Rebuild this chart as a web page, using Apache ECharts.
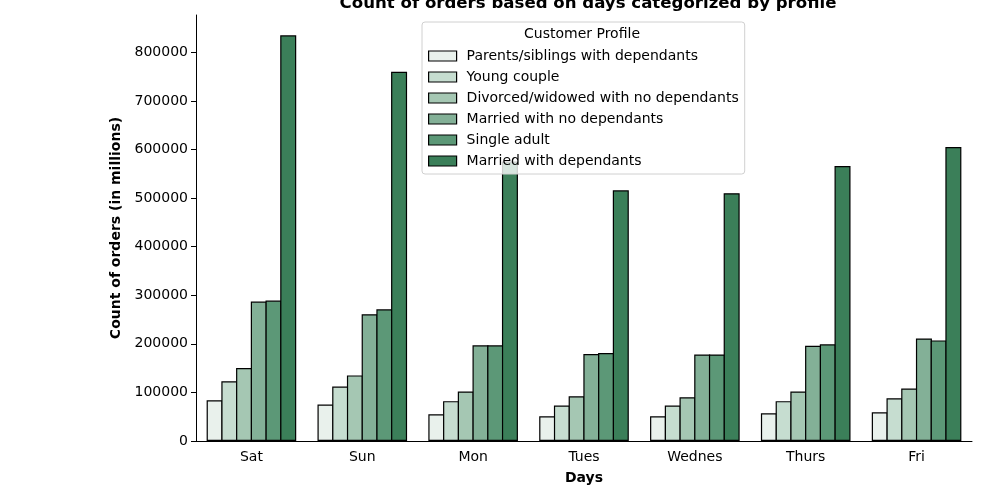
<!DOCTYPE html>
<html style="height:100%">
<head>
    <meta charset="UTF-8">
    <title>Orders by day and profile</title>
    <script src="https://cdn.jsdelivr.net/npm/echarts@6/dist/echarts.min.js"></script>
</head>
<body style="height:100%;margin:0">
    <div id="main" style="width:1000px;height:500px"></div>
    <script>
        var days = ['Sat', 'Sun', 'Mon', 'Tues', 'Wednes', 'Thurs', 'Fri'];
        var profiles = [
            'Parents/siblings with dependants',
            'Young couple',
            'Divorced/widowed with no dependants',
            'Married with no dependants',
            'Single adult',
            'Married with dependants'
        ];
        var parentsSiblings = [84000, 75000, 55000, 51000, 51000, 57000, 59000];
        var youngCouple = [123000, 112000, 82000, 73000, 73000, 82000, 88000];
        var divorcedWidowed = [150000, 135000, 102000, 92000, 90000, 102000, 108000];
        var marriedNoDeps = [287000, 261000, 197000, 179000, 178000, 196000, 211000];
        var singleAdult = [289000, 271000, 197000, 181000, 178000, 199000, 207000];
        var marriedWithDeps = [835000, 760000, 575000, 516000, 510000, 566000, 605000];

        var values = [parentsSiblings, youngCouple, divorcedWidowed, marriedNoDeps, singleAdult, marriedWithDeps];
        var colors = ['#e9f1ec', '#c6ddd0', '#a5c7b3', '#83b097', '#5c9877', '#3b7f59'];

        var font = 'DejaVu Sans';
        var series = profiles.map(function (name, i) {
            return {
                name: name,
                type: 'bar',
                data: values[i],
                barGap: '-8%',
                barWidth: 16,
                itemStyle: { color: colors[i], borderColor: '#000', borderWidth: 1.2 },
                emphasis: { disabled: true }
            };
        });

        var chart = echarts.init(document.getElementById('main'), null, { renderer: 'canvas' });
        chart.setOption({
            animation: false,
            backgroundColor: '#fff',
            title: {
                text: 'Count of orders based on days categorized by profile',
                left: 583,
                textAlign: 'center',
                top: -10,
                textStyle: { fontFamily: font, fontSize: 16.6, fontWeight: 'bold', color: '#000' }
            },
            grid: { left: 196, right: 28, top: 15, bottom: 59, containLabel: false },
            legend: {
                data: profiles,
                orient: 'vertical',
                left: 422,
                top: 22,
                padding: [26, 6, 5, 6],
                itemWidth: 28,
                itemHeight: 10,
                itemGap: 5,
                icon: 'rect',
                backgroundColor: 'rgba(255,255,255,0.8)',
                borderColor: '#d0d0d0',
                borderWidth: 1,
                borderRadius: 3,
                z: 10,
                itemStyle: { borderColor: '#000', borderWidth: 1.2 },
                textStyle: {
                    fontFamily: font, fontSize: 14, color: '#000', lineHeight: 16,
                    padding: [0, 0, 0, 5]
                }
            },
            graphic: [{
                type: 'text',
                x: 582,
                y: 34,
                z: 20,
                style: {
                    text: 'Customer Profile', font: '14px "DejaVu Sans"', fill: '#000',
                    align: 'center', verticalAlign: 'middle'
                }
            }],
            xAxis: {
                type: 'category',
                data: days,
                name: 'Days',
                nameLocation: 'middle',
                nameGap: 30,
                nameTextStyle: { fontFamily: font, fontSize: 14, fontWeight: 'bold', color: '#000' },
                axisLine: { lineStyle: { color: '#000', width: 1 } },
                axisTick: { alignWithLabel: true, length: 5, lineStyle: { color: '#000' } },
                axisLabel: { fontFamily: font, fontSize: 14, color: '#000', margin: 9 },
                splitLine: { show: false }
            },
            yAxis: {
                type: 'value',
                min: 0,
                max: 876750,
                interval: 100000,
                name: 'Count of orders (in millions)',
                nameLocation: 'middle',
                nameGap: 64,
                nameTextStyle: { fontFamily: font, fontSize: 14, fontWeight: 'bold', color: '#000' },
                axisLine: { show: true, lineStyle: { color: '#000', width: 1 } },
                axisTick: { show: true, length: 5, lineStyle: { color: '#000' } },
                axisLabel: {
                    fontFamily: font, fontSize: 14, color: '#000', margin: 8, showMaxLabel: false,
                    formatter: function (v) { return String(v); }
                },
                splitLine: { show: false }
            },
            series: series
        });
    </script>
</body>
</html>
